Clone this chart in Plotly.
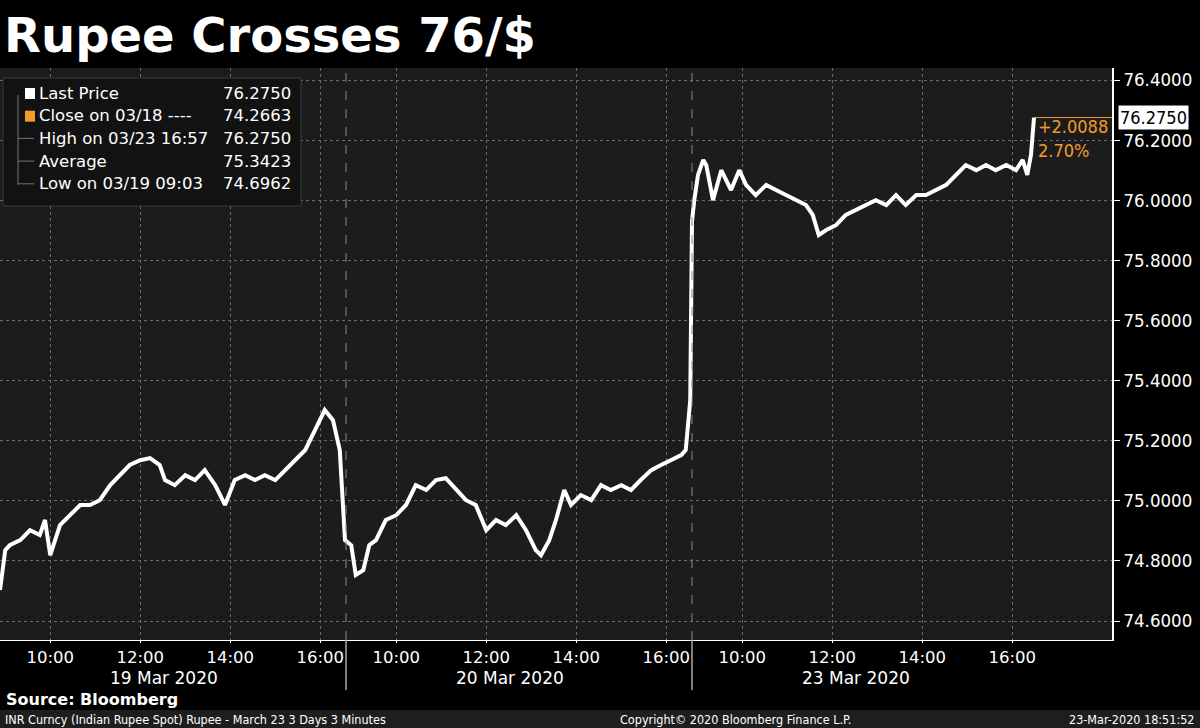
import plotly.graph_objects as go

day_labels = ["19 Mar 2020", "20 Mar 2020", "23 Mar 2020"]
tick_times = ["10:00", "12:00", "14:00", "16:00"]
y_ticks = [74.6, 74.8, 75.0, 75.2, 75.4, 75.6, 75.8, 76.0, 76.2, 76.4]

d1_times = ["8:53","9:00","9:06","9:20","9:33","9:46","9:53","10:00","10:13","10:26","10:40","10:53","11:06","11:20","11:33","11:46","12:00","12:13","12:26","12:33","12:46","13:00","13:13","13:26","13:40","13:53","14:06","14:20","14:33","14:46","15:00","15:13","15:26","15:40","15:53","16:06","16:17","16:26","16:33"]
d1_vals = [74.703,74.836,74.852,74.869,74.902,74.886,74.936,74.819,74.919,74.952,74.986,74.986,75.002,75.052,75.085,75.119,75.135,75.142,75.119,75.069,75.052,75.085,75.069,75.102,75.052,74.986,75.069,75.085,75.069,75.085,75.069,75.102,75.135,75.169,75.235,75.302,75.268,75.169,74.869]

d2_times = ["9:00","9:06","9:16","9:24","9:33","9:46","10:00","10:13","10:26","10:40","10:53","11:06","11:20","11:33","11:46","12:00","12:13","12:26","12:40","12:53","13:06","13:13","13:24","13:33","13:44","13:53","14:06","14:20","14:33","14:46","15:00","15:13","15:26","15:40","15:53","16:06","16:20","16:26","16:32"]
d2_vals = [74.852,74.753,74.769,74.852,74.869,74.936,74.952,74.986,75.052,75.036,75.069,75.075,75.036,75.002,74.986,74.902,74.936,74.919,74.952,74.902,74.836,74.819,74.869,74.936,75.036,74.986,75.019,75.002,75.052,75.036,75.052,75.036,75.069,75.102,75.119,75.135,75.152,75.169,75.335]

d3_times = ["8:53","8:56","9:01","9:08","9:12","9:21","9:32","9:45","9:56","10:05","10:18","10:32","10:45","10:58","11:12","11:25","11:34","11:42","11:52","12:05","12:18","12:32","12:45","12:58","13:12","13:25","13:38","13:52","14:05","14:18","14:32","14:45","14:58","15:12","15:25","15:38","15:52","16:05","16:14","16:20","16:25","16:29"]
d3_vals = [75.930,76.000,76.084,76.134,76.117,76.000,76.100,76.034,76.100,76.051,76.017,76.051,76.034,76.017,76.000,75.984,75.951,75.884,75.901,75.917,75.951,75.967,75.984,76.000,75.984,76.017,75.984,76.017,76.017,76.034,76.051,76.084,76.117,76.100,76.117,76.100,76.117,76.100,76.134,76.084,76.151,76.275]

legend_rows = [("Last Price", "76.2750"), ("Close on 03/18 ----", "74.2663"),
               ("High on 03/23 16:57", "76.2750"), ("Average", "75.3423"),
               ("Low on 03/19 09:03", "74.6962")]
last_price = 76.275
change_txt = ["+2.0088", "2.70%"]

DAY_LEN = 346 / 45.0
OPEN = 8.0 + 53 / 60.0
W, H = 1200, 728
L, R, T, B = 0, 88, 68, 88
PW, PH = W - L - R, H - T - B
FONT = "DejaVu Sans Condensed"
FONTW = "DejaVu Sans"


def hrs(s):
    h, m = s.split(":")
    return int(h) + int(m) / 60.0


xs, ys = [], []
for d, (tt, vv) in enumerate([(d1_times, d1_vals), (d2_times, d2_vals), (d3_times, d3_vals)]):
    xs += [d * DAY_LEN + hrs(t) - OPEN for t in tt]
    ys += vv

tickvals, ticktext = [], []
for d in range(3):
    for t in tick_times:
        tickvals.append(d * DAY_LEN + hrs(t) - OPEN)
        ticktext.append(t)

XMAX = PW / 45.0
YMIN, YMAX = 74.6 - (640 - 621) / 300.5, 76.4 + (80 - 68) / 300.5


def px(x):
    return (x - L) / PW


def py(y):
    return (H - B - y) / PH


fig = go.Figure()
fig.add_trace(go.Scatter(x=xs, y=ys, mode="lines", line=dict(color="white", width=4),
                         hoverinfo="skip", showlegend=False))

shapes = []
for d in (1, 2):
    xb = d * DAY_LEN
    shapes.append(dict(type="line", xref="x", yref="paper", x0=xb, x1=xb, y0=0, y1=1,
                       line=dict(color="#888", width=1, dash="dash")))
    shapes.append(dict(type="line", xref="x", yref="paper", x0=xb, x1=xb, y0=py(690), y1=0,
                       line=dict(color="#aaa", width=1.5)))
shapes.append(dict(type="line", xref="x", yref="y", x0=xs[-1], x1=XMAX, y0=last_price, y1=last_price,
                   line=dict(color="#f39c2a", width=1)))
shapes.append(dict(type="rect", xref="paper", yref="paper", x0=px(3), x1=px(301), y0=py(206), y1=py(78),
                   fillcolor="#121212", line=dict(color="#3a3a3a", width=1)))
shapes.append(dict(type="line", xref="paper", yref="paper", x0=px(18), x1=px(18), y0=py(185), y1=py(95),
                   line=dict(color="#777", width=1)))
shapes.append(dict(type="rect", xref="paper", yref="paper", x0=px(0), x1=px(1200), y0=py(728), y1=py(710),
                   fillcolor="#1e1e1e", line=dict(width=0)))

annotations = []
annotations.append(dict(text="<b>Rupee Crosses 76/$</b>", xref="paper", yref="paper", x=px(2), y=py(35),
                        xanchor="left", yanchor="middle", showarrow=False,
                        font=dict(family=FONTW, size=48, color="white")))
for d in range(3):
    annotations.append(dict(text=day_labels[d], xref="x", yref="paper", x=(d + 0.5) * DAY_LEN - 0.2, y=py(678),
                            showarrow=False, yanchor="middle",
                            font=dict(family=FONTW, size=17, color="white")))
annotations.append(dict(text="<b>Source: Bloomberg</b>", xref="paper", yref="paper", x=px(4), y=py(699),
                        xanchor="left", yanchor="middle", showarrow=False,
                        font=dict(family=FONTW, size=16, color="white")))
foot = dict(xref="paper", yref="paper", y=py(719), yanchor="middle", showarrow=False,
            font=dict(family=FONT, size=12.5, color="white"))
annotations.append(dict(foot, text="INR Curncy (Indian Rupee Spot) Rupee - March 23 3 Days 3 Minutes", x=px(3), xanchor="left"))
annotations.append(dict(foot, text="Copyright© 2020 Bloomberg Finance L.P.", x=px(735), xanchor="center"))
annotations.append(dict(foot, text="23-Mar-2020 18:51:52", x=px(1197), xanchor="right"))

for i, (lab, val) in enumerate(legend_rows):
    yy = py(93 + i * 22.7)
    annotations.append(dict(text=lab, xref="paper", yref="paper", x=px(37), y=yy, xanchor="left",
                            yanchor="middle", showarrow=False,
                            font=dict(family=FONTW, size=16.5, color="white")))
    annotations.append(dict(text=val, xref="paper", yref="paper", x=px(293), y=yy, xanchor="right",
                            yanchor="middle", showarrow=False,
                            font=dict(family=FONTW, size=16.5, color="white")))
    if i < 2:
        col = "white" if i == 0 else "#f39c2a"
        shapes.append(dict(type="rect", xref="paper", yref="paper", x0=px(25), x1=px(35),
                           y0=py(99 + i * 22.7), y1=py(88 + i * 22.7), fillcolor=col, line=dict(width=0)))
    else:
        shapes.append(dict(type="line", xref="paper", yref="paper", x0=px(18), x1=px(34),
                           y0=yy, y1=yy, line=dict(color="#777", width=1)))

annotations.append(dict(text=f"{last_price:.4f}", xref="paper", yref="y", x=px(1118), y=last_price,
                        xanchor="left", yanchor="middle", showarrow=False, bgcolor="white",
                        font=dict(family=FONT, size=18, color="black"), borderpad=1))
for i, t in enumerate(change_txt):
    annotations.append(dict(text=t, xref="paper", yref="paper", x=px(1036), y=py(127 + i * 23),
                            xanchor="left", yanchor="middle", showarrow=False,
                            font=dict(family=FONT, size=18, color="#f39c2a")))

fig.update_layout(
    width=W, height=H, margin=dict(l=L, r=R, t=T, b=B),
    paper_bgcolor="black", plot_bgcolor="#1c1c1c",
    shapes=shapes, annotations=annotations, showlegend=False,
    xaxis=dict(range=[0, XMAX], tickvals=tickvals, ticktext=ticktext, showgrid=True,
               gridcolor="#6a6a6a", griddash="dot", gridwidth=1, zeroline=False,
               showline=True, linecolor="white", ticks="outside", tickcolor="white", ticklen=2,
               tickfont=dict(family=FONTW, size=16.5, color="white")),
    yaxis=dict(range=[YMIN, YMAX], side="right", tickvals=y_ticks, tickformat=".4f",
               showgrid=True, gridcolor="#6a6a6a", griddash="dot", gridwidth=1, zeroline=False,
               showline=True, linecolor="white", linewidth=1.5, ticks="outside", tickcolor="white",
               ticklen=6, tickfont=dict(family=FONT, size=18.5, color="white")),
)
fig.write_html("out.html", config={"displayModeBar": False})
with open("out.html", encoding="utf-8") as f:
    html = f.read()
html = html.replace("<head>", "<head><style>html,body{margin:0;padding:0;background:black;overflow:hidden}</style>", 1)
with open("out.html", "w", encoding="utf-8") as f:
    f.write(html)
